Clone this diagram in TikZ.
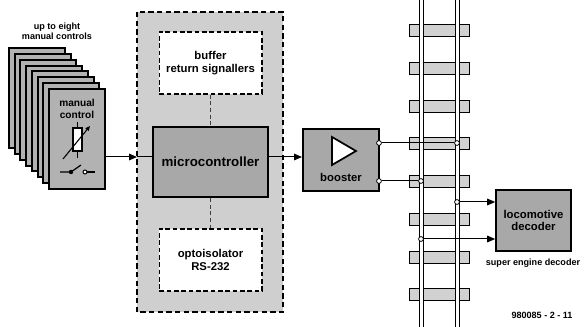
\documentclass[tikz,border=0pt]{standalone}
\usepackage{fontspec}
\setmainfont{Liberation Sans}
\usetikzlibrary{arrows.meta}

\definecolor{cardgray}{gray}{0.70}
\definecolor{boxgray}{gray}{0.66}
\definecolor{panelgray}{gray}{0.81}
\definecolor{sleepergray}{gray}{0.82}

\begin{document}
\begin{tikzpicture}[x=0.75pt,y=-0.75pt,
    >={Triangle[length=6pt,width=5pt]},
    card/.style={draw,fill=cardgray,line width=1.4pt,minimum width=42pt,minimum height=75pt,inner sep=0pt},
    block/.style={draw,fill=boxgray,line width=1.5pt,inner sep=0pt,align=center,font=\bfseries\fontsize{8.5}{9.5}\selectfont},
    subblock/.style={draw,fill=white,dashed,dash pattern=on 3.5pt off 2pt,line width=1pt,inner sep=0pt,align=center,
        minimum width=77pt,minimum height=46.5pt,font=\bfseries\fontsize{8.5}{9.5}\selectfont},
    note/.style={align=center,inner sep=0pt,font=\bfseries\fontsize{6.8}{7.6}\selectfont},
    wire/.style={line width=0.75pt},
    tap/.style={circle,draw,fill=white,line width=0.6pt,inner sep=0pt,minimum size=3.6pt},
    sleeper/.style={draw,fill=sleepergray,line width=0.6pt}]
    \useasboundingbox (0,0) rectangle (588,327);

    % stack of manual controls
    \node[note] at (57,31) (stacklabel) {up to eight\\manual controls};
    \foreach \i in {0,...,7}
        \node[card] at ({37+5.714*\i},{98+5.857*\i}) (card\i) {};
    \node[align=center,inner sep=0pt,font=\bfseries\fontsize{7.6}{8.6}\selectfont] at (77,109) (ctrl) {manual\\control};
    % variable resistor
    \draw[line width=0.9pt] (77.5,122) -- (77.5,128) (77.5,151) -- (77.5,158);
    \draw[fill=white,line width=0.9pt] (73,128) rectangle (82,151);
    \draw[-{Triangle[length=3.5pt,width=3pt]},line width=0.8pt] (63,159) -- (90,126);
    % switch
    \draw[line width=0.9pt] (60,172) -- (71,172) -- (81,165);
    \fill (71,172) circle (2.2);
    \draw[line width=0.9pt] (87,172) -- (95,172);
    \draw[fill=white,line width=0.7pt] (85,172) circle (2);

    % controller panel
    \draw[fill=panelgray,dashed,dash pattern=on 4pt off 2.5pt,line width=1.1pt] (137,12) rectangle (283,312);
    \node[block,minimum width=86pt,minimum height=52.5pt,font=\bfseries\fontsize{10}{12}\selectfont] at (210.5,162) (micro) {microcontroller};
    \node[subblock] at (210.5,63) (buffer) {buffer\\return signallers};
    \node[subblock] at (210.5,260) (opto) {optoisolator\\RS-232};
    \draw[dashed,dash pattern=on 3pt off 2pt,line width=1pt,black!75] (buffer) -- (micro);
    \draw[dashed,dash pattern=on 3pt off 2pt,line width=1pt,black!75] (micro) -- (opto);

    \coordinate (panelin) at (137,157);
    \draw[wire,->] (card7.east |- panelin) -- (panelin);
    \draw[wire] (panelin) -- (micro.west |- panelin);

    % booster
    \node[block,minimum width=57pt,minimum height=46.5pt] at (341,160) (booster) {};
    \node[font=\bfseries\fontsize{8.5}{9.5}\selectfont,inner sep=0pt] at (341,177) (boostlabel) {booster};
    \draw[fill=white,line width=1.3pt] (332,137) -- (356,151) -- (332,165) -- cycle;
    \draw[wire,->] (micro.east |- 0,157) -- (booster.west |- 0,157);

    % track
    \foreach \y in {30,68,106,143,181,219,257,294}
        \draw[sleeper] (409,\y-6) rectangle (469,\y+6);
    \draw[fill=white,line width=0.7pt] (419,-2) rectangle (423,329);
    \draw[fill=white,line width=0.7pt] (455,-2) rectangle (459,329);

    % feeds to the rails
    \node[tap] at (379,143) (outA) {};
    \node[tap] at (379,181) (outB) {};
    \node[tap] at (457,143) (railA) {};
    \node[tap] at (421,181) (railB) {};
    \draw[wire] (outA) -- (railA);
    \draw[wire] (outB) -- (railB);

    % decoder
    \node[block,minimum width=56pt,minimum height=45.75pt] at (533.5,220.5) (decoder) {locomotive\\decoder};
    \node[tap] at (457,202) (pickA) {};
    \node[tap] at (421,239) (pickB) {};
    \draw[wire,->] (pickA) -- (decoder.west |- pickA);
    \draw[wire,->] (pickB) -- (decoder.west |- pickB);
    \node[note] at (533,263) (decoderlabel) {super engine decoder};
    \node[note] at (542,315) (figno) {980085 - 2 - 11};
\end{tikzpicture}
\end{document}
